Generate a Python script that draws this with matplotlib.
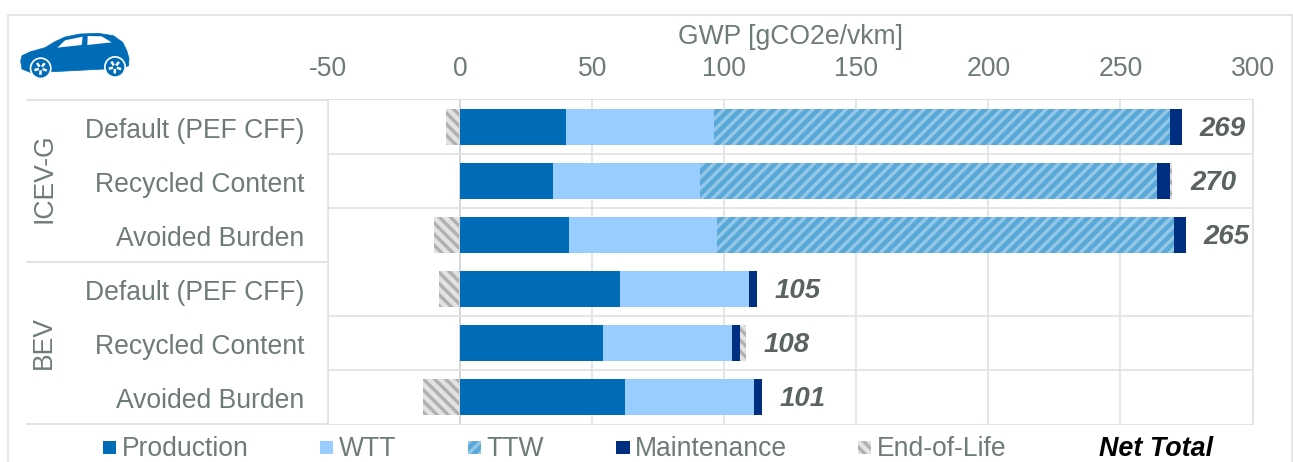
import matplotlib
matplotlib.use("Agg")
import matplotlib.pyplot as plt
from matplotlib.patches import Polygon, Circle, Rectangle
from matplotlib.transforms import ScaledTranslation
import numpy as np

plt.rcParams['font.family'] = ['Liberation Sans', 'DejaVu Sans']

categories = ["Default (PEF CFF)", "Recycled Content", "Avoided Burden",
              "Default (PEF CFF)", "Recycled Content", "Avoided Burden"]
groups = ["ICEV-G", "BEV"]
production = [40.0, 35.2, 41.3, 60.6, 54.2, 62.5]
wtt = [56.0, 55.8, 56.0, 48.9, 48.8, 48.9]
ttw = [172.8, 173.0, 172.9, 0, 0, 0]
maintenance = [4.5, 4.6, 4.7, 3.0, 3.0, 3.0]
end_of_life = [-4.9, 1.1, -9.5, -7.6, 2.3, -13.6]
net_total = [269, 270, 265, 105, 108, 101]
x_ticks = [-50, 0, 50, 100, 150, 200, 250, 300]

W, H = 1293, 462
TXT = '#6f7b79'
GRID = '#dfe3e2'
C_PROD, C_WTT, C_TTW, C_TTW_H, C_MAINT, C_EOL, C_EOL_H = (
    '#006cb7', '#99ccff', '#5aa8d8', '#93c8e8', '#002f82', '#e2e2e2', '#b0b0b0')
FS = 19.1
plt.rcParams['hatch.linewidth'] = 2.4

fig = plt.figure(figsize=(W / 100, H / 100), dpi=100)
L, R, T, B = 328, 1252.5, 100, 424
ax = fig.add_axes([L / W, 1 - B / H, (R - L) / W, (B - T) / H])
ax.set_xlim(-50, 300)
ax.set_ylim(5.5, -0.5)
y = np.arange(len(categories))

prod, w, t, m, e = map(np.array, (production, wtt, ttw, maintenance, end_of_life))
h = 36 / 54
ax.set_axisbelow(True)
ax.barh(y, prod, h, color=C_PROD, label="Production", zorder=3)
ax.barh(y, w, h, left=prod, color=C_WTT, label="WTT", zorder=3)
ax.barh(y[:3], t[:3], h, left=(prod + w)[:3], facecolor=C_TTW, edgecolor=C_TTW_H,
        hatch='///', lw=0, label="TTW", zorder=3)
top = prod + w + t
ax.barh(y, m, h, left=top, color=C_MAINT, label="Maintenance", zorder=3)
top = top + m
left_eol = np.where(e < 0, 0, top)
ax.barh(y, np.abs(e), h, left=np.where(e < 0, e, left_eol) - 0.3 * (e < 0),
        facecolor=C_EOL, edgecolor=C_EOL_H, hatch='\\\\\\', lw=0,
        label="End-of-Life", zorder=3)
ends = top + np.where(e > 0, e, 0)
for yi, end, n in zip(y, ends, net_total):
    ax.annotate(str(n), (end, yi), xytext=(12.6, -1.8), textcoords='offset points',
                va='center', ha='left', fontsize=19.9, fontweight='bold',
                fontstyle='italic', color='#5a6362', zorder=5)

ax.xaxis.tick_top()
ax.set_xticks(x_ticks)
ax.set_xticklabels([str(v) for v in x_ticks])
ax.set_yticks(y)
ax.set_yticklabels(categories)
ax.tick_params(axis='x', length=0, pad=12.6, labelsize=FS, labelcolor=TXT)
ax.tick_params(axis='y', length=0, pad=17, labelsize=FS, labelcolor=TXT)
shift = ScaledTranslation(0, -1.5 / 100, fig.dpi_scale_trans)
for lab in ax.get_yticklabels():
    lab.set_transform(lab.get_transform() + shift)
ax.grid(axis='x', color=GRID, lw=1.2)
for s in ax.spines.values():
    s.set_visible(False)
ax.spines['left'].set_visible(True)
ax.spines['right'].set_visible(True)
ax.spines['left'].set_color(GRID)
ax.spines['right'].set_color(GRID)
ax.spines['left'].set_linewidth(1.2)
ax.spines['right'].set_linewidth(1.2)
ax.axvline(0, color='#d2d6d6', lw=1.2, zorder=1)
for yy in [0.5, 1.5, 3.5, 4.5]:
    ax.axhline(yy, color=GRID, lw=1.2, zorder=1)

# overlay in pixel coordinates for decoration
ov = fig.add_axes([0, 0, 1, 1], zorder=-1)
ov.set_xlim(0, W)
ov.set_ylim(H, 0)
ov.axis('off')
ov.plot([7.5, 7.5, 1292], [H, 14.5, 14.5], color=GRID, lw=1.2)
ov.plot([1292, 1292], [14.5, H], color=GRID, lw=1.2)
for yy in [100, 262, 424]:
    ov.plot([27, R], [yy, yy], color=GRID, lw=1.4)

ov2 = fig.add_axes([0, 0, 1, 1], zorder=5)
ov2.set_xlim(0, W)
ov2.set_ylim(H, 0)
ov2.axis('off')
ov2.patch.set_alpha(0)
ov2.text(790, 37, "GWP [gCO2e/vkm]", ha='center', va='center', fontsize=FS, color=TXT)
ov2.text(44, 178, groups[0], rotation=90, ha='center', va='center', fontsize=FS, color=TXT)
ov2.text(44, 343, groups[1], rotation=90, ha='center', va='center', fontsize=FS, color=TXT)

# legend
leg_y = 449
items = [("Production", 102.5, C_PROD, None, None), ("WTT", 319.5, C_WTT, None, None),
         ("TTW", 467.5, C_TTW, C_TTW_H, '///'), ("Maintenance", 616, C_MAINT, None, None),
         ("End-of-Life", 857.5, C_EOL, C_EOL_H, '\\\\\\')]
for name, x0, fc, hc, ht in items:
    ov2.add_patch(Rectangle((x0, 440.5), 13.5, 13.5, facecolor=fc,
                            edgecolor=hc if hc else fc, hatch=ht, lw=0))
    ov2.text(x0 + 19, leg_y, name, ha='left', va='center', fontsize=FS, color=TXT)
ov2.text(1099, leg_y, "Net Total", ha='left', va='center', fontsize=19.4,
         fontweight='bold', fontstyle='italic', color='black')

# car icon
zx = lambda p: (10 + p[0] / 3, 25 + p[1] / 3)
body = [(32, 108), (36, 92), (62, 80), (105, 68), (135, 50), (165, 36), (210, 27), (265, 25),
        (310, 32), (338, 52), (350, 76), (357, 100), (356, 122), (340, 128), (285, 132),
        (130, 140), (60, 142), (36, 132)]
ov2.add_patch(Polygon([zx(p) for p in body], closed=True, fc=C_PROD, ec=C_PROD, lw=0.5))
for win in ([(142, 68), (165, 46), (218, 35), (215, 60)],
            [(233, 33), (275, 34), (305, 52), (232, 60)]):
    ov2.add_patch(Polygon([zx(p) for p in win], closed=True, fc='white', ec='none'))
for cx, cy in [(92, 130), (315, 126)]:
    px, py = zx((cx, cy))
    ov2.add_patch(Circle((px, py), 11, fc='white', ec='none'))
    ov2.add_patch(Circle((px, py), 9.3, fc=C_PROD, ec='none'))
    for a in np.deg2rad([20, 92, 164, 236, 308]):
        ov2.plot([px + 2 * np.cos(a), px + 6.5 * np.cos(a)], [py + 2 * np.sin(a), py + 6.5 * np.sin(a)],
                 color='white', lw=1.8, solid_capstyle='butt')

fig.savefig("out.png", dpi=100)
